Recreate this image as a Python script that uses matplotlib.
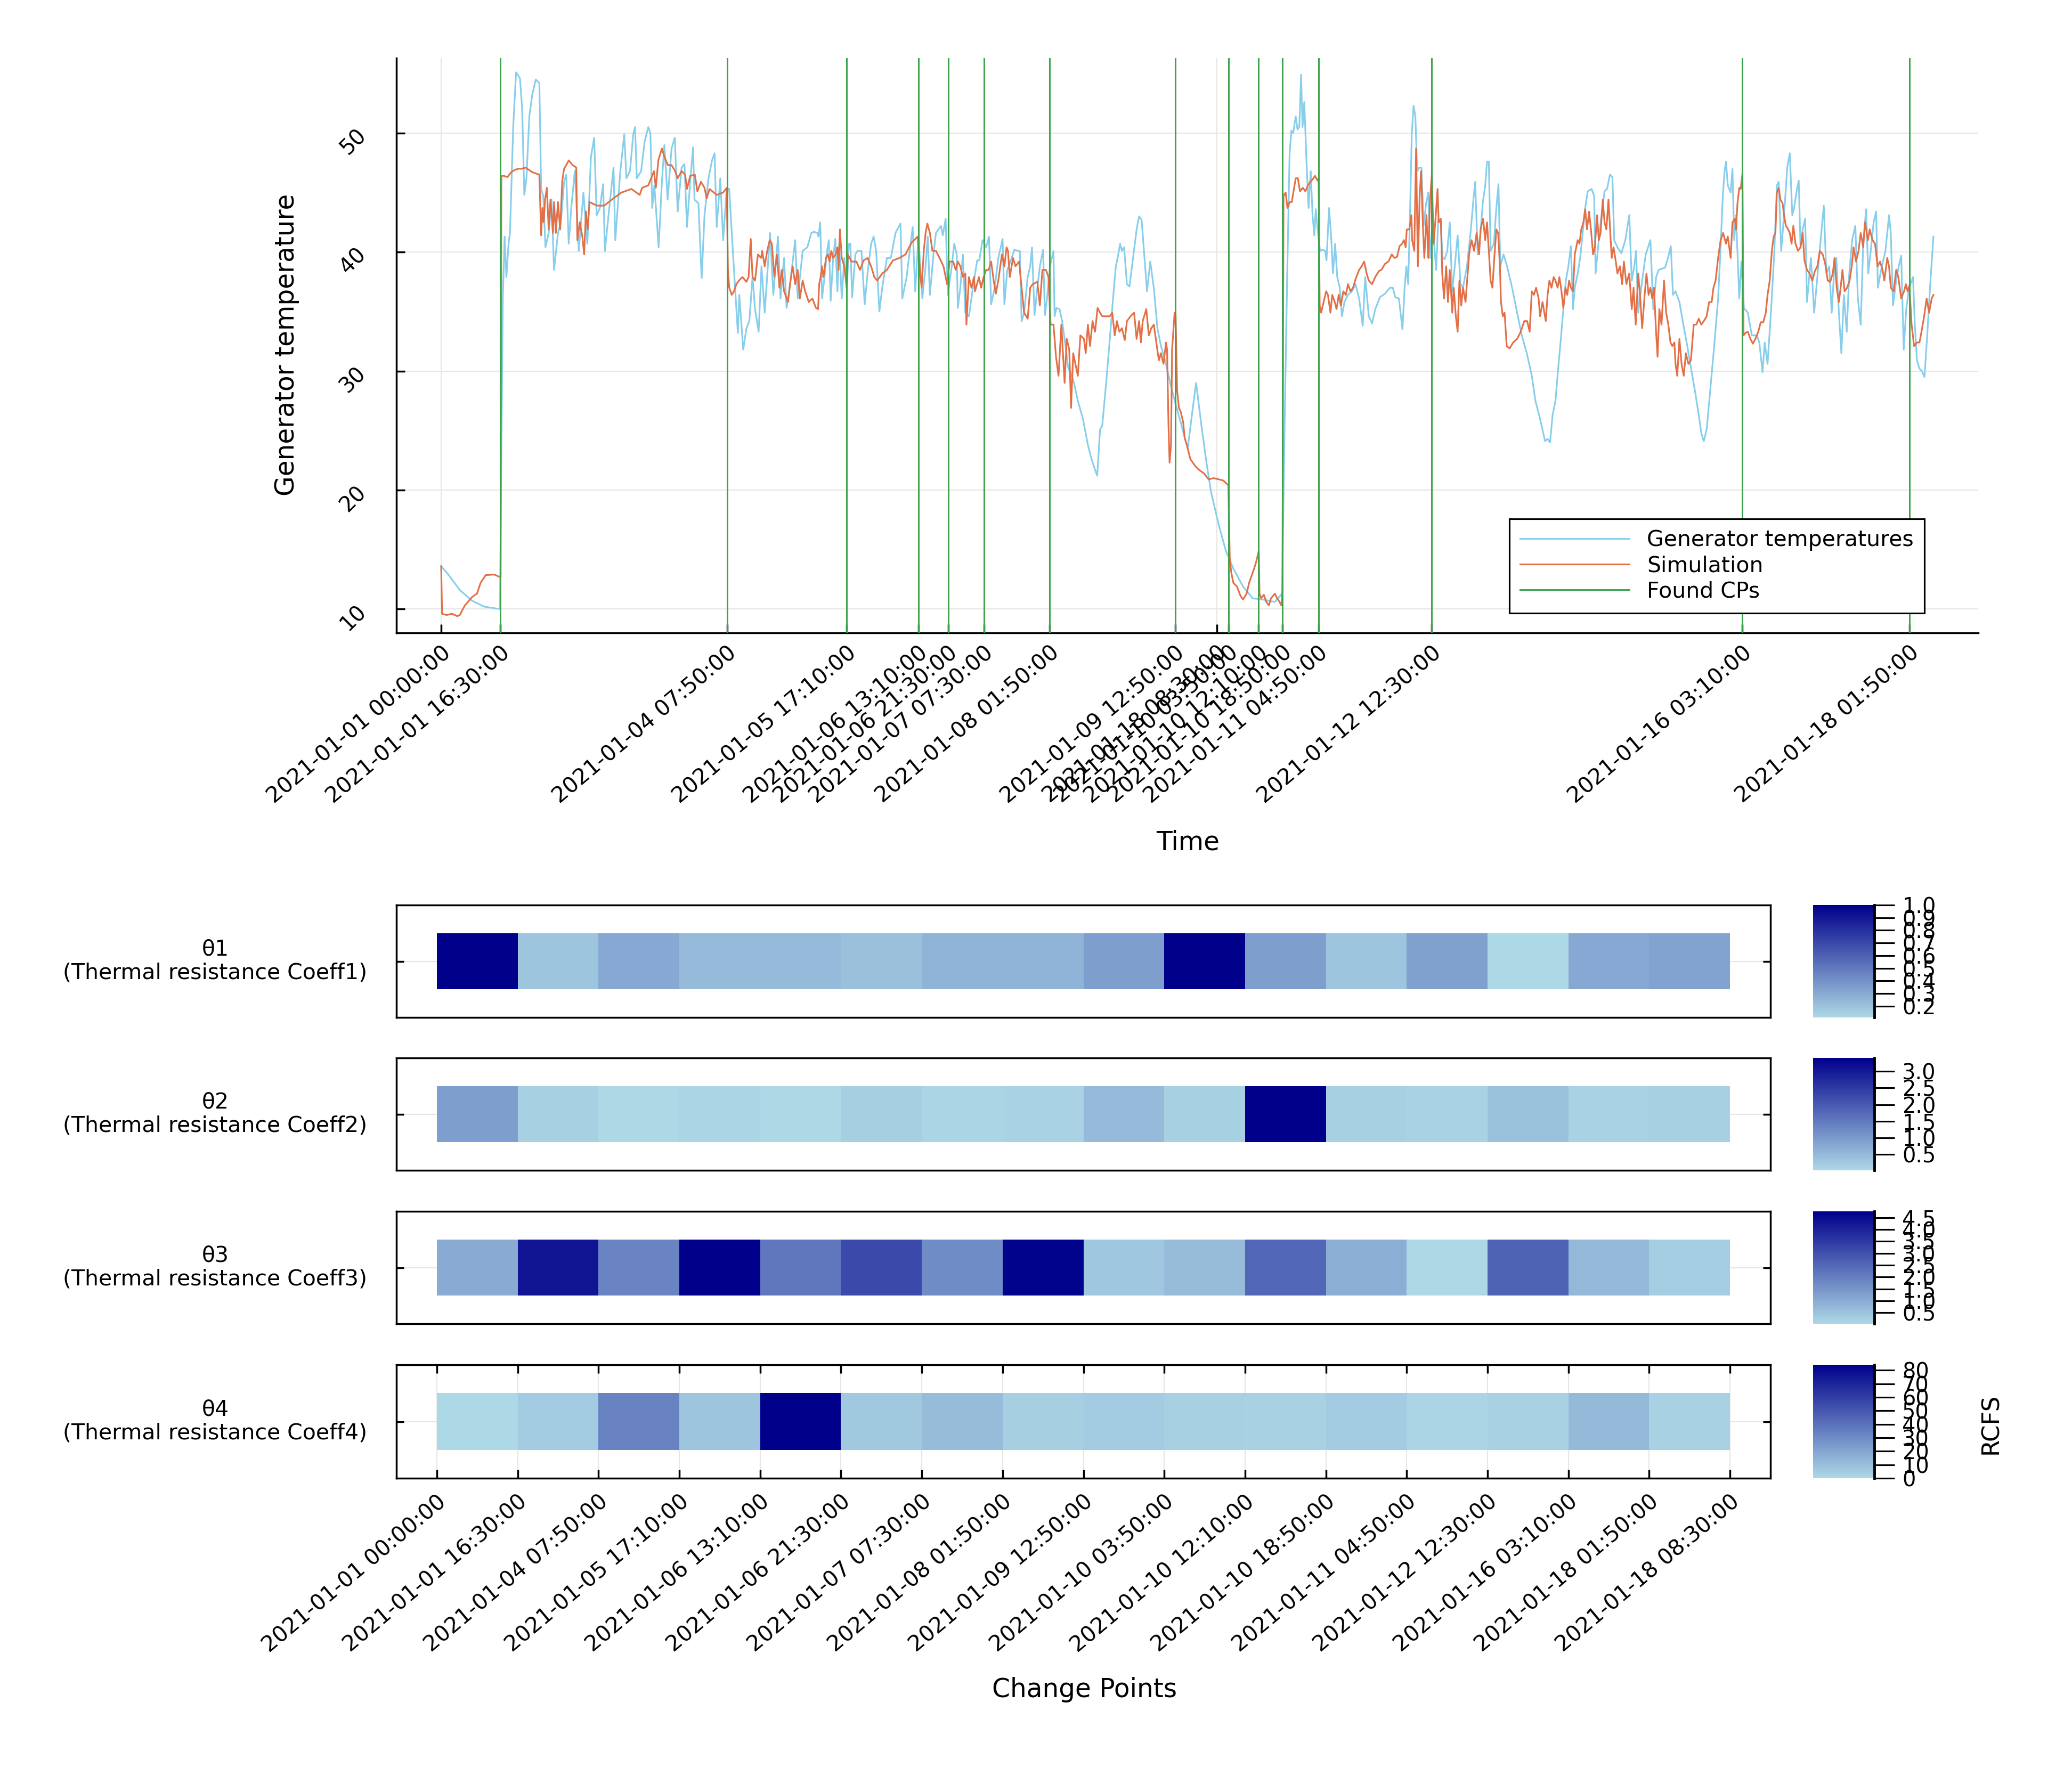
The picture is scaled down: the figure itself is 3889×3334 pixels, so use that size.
import numpy as np
import matplotlib
matplotlib.use("Agg")
import matplotlib.pyplot as plt
from matplotlib.colors import LinearSegmentedColormap
from datetime import datetime

plt.rcParams['font.family'] = ['DejaVu Sans']

# ---------------- data ----------------
START = "2021-01-01 00:00:00"
END = "2021-01-18 08:30:00"
change_points = ["2021-01-01 16:30:00", "2021-01-04 07:50:00", "2021-01-05 17:10:00",
                 "2021-01-06 13:10:00", "2021-01-06 21:30:00", "2021-01-07 07:30:00",
                 "2021-01-08 01:50:00", "2021-01-09 12:50:00", "2021-01-10 03:50:00",
                 "2021-01-10 12:10:00", "2021-01-10 18:50:00", "2021-01-11 04:50:00",
                 "2021-01-12 12:30:00", "2021-01-16 03:10:00", "2021-01-18 01:50:00"]
end_tick_hours = 216.5   # the reference draws the END tick at this position on the time axis

# Generator temperatures (hours since start, value)
temp_hours = [0, 2, 5.2, 8.6, 12, 16.4, 17.2, 17.7, 18.2, 18.8, 19.2, 20.1, 20.9, 22.0, 22.6, 23.2, 23.8, 24.6, 25.4, 26.4, 27.4, 27.9, 28.5, 29.1, 30.0, 30.8, 31.5, 32.6, 33.4, 34.3, 34.9, 35.6, 36.3, 37.3, 38.4, 39.7, 40.8, 41.8, 42.7, 43.4, 44.3, 45.2, 45.7, 46.6, 48.1, 48.6, 50.0, 51.1, 51.7, 52.7, 53.6, 54.1, 54.6, 55.8, 56.8, 57.8, 58.4, 58.9, 59.5, 60.7, 61.6, 62.3, 63.2, 64.3, 65.2, 66.0, 67.1, 67.9, 68.6, 69.5, 70.3, 70.7, 71.8, 72.7, 73.5, 74.6, 75.6, 76.3, 76.9, 77.9, 78.7, 79.7, 80.4, 81.4, 82.8, 83.2, 84.3, 85.2, 86.0, 86.9, 87.6, 88.6, 89.4, 90.3, 91.8, 92.7, 94.0, 94.7, 95.7, 96.4, 97.5, 98.8, 99.5, 100.9, 102.2,
              103.3, 104.0, 105.0, 105.3, 105.8, 106.3, 107.0, 107.7, 108.2, 108.7, 109.4, 110.0, 110.6, 111.1, 111.8, 112.5, 113.2, 113.8, 114.2, 114.7, 115.6, 116.2, 117.3, 118.2, 119.0, 120.0, 120.7, 121.4, 122.3, 123.1, 124.4, 125.5, 126.8, 128.2, 128.7, 129.9, 131.6, 132.3, 133.2, 134.3, 135.2, 135.8, 136.4, 137.4, 138.1, 138.8, 139.5, 140.0, 140.8, 141.4, 142.5, 143.2, 143.9, 144.2, 144.9, 145.6, 146.3, 147.3, 148.4, 149.6, 150.2, 151.1, 152.1, 152.9, 153.5, 154.5, 155.5, 156.7, 157.2, 158.0, 158.9, 160.0, 161.0, 161.5, 162.0, 162.7, 163.7, 164.4, 164.9, 165.6, 166.4, 167.1, 168.0, 168.5, 169.2, 169.9, 170.9, 171.2, 171.7, 172.6, 173.3, 174.0, 175.0, 176.4, 177.7, 179.1, 180.5, 181.5, 182.5, 183.1, 183.9, 184.5, 185.6, 186.7, 187.6, 188.3, 188.8, 189.5, 190.0, 190.6, 191.4, 192.1, 193.1, 194.1, 194.8, 195.5, 196.0, 197.0, 197.9, 198.9, 199.9, 200.9, 202.3, 203.7, 205.0, 206.4, 207.8, 208.4, 209.4,
              210.7, 212.2, 213.6, 214.9, 217.0, 219.0, 221.1, 223.8, 226.5, 229.2, 232.7, 234.7, 235.4, 236.1, 236.8, 237.3, 237.8, 238.5, 239.0, 239.5, 240.0, 240.4, 240.9, 241.5, 242.1, 242.7, 243.2, 243.7, 244.1, 244.6, 245.3, 246.0, 246.7, 247.1, 247.8, 248.4, 248.9, 249.5, 250.1, 250.8, 251.4, 252.1, 253.1, 254.2, 255.2, 256.2, 257.2, 257.9, 258.9, 259.8, 260.7, 262.0, 263.4, 264.8, 265.6, 266.3, 267.3, 268.3, 268.9, 269.4, 269.9, 270.4, 270.9, 271.4, 271.9, 272.4, 273.0, 273.6, 274.2, 274.9, 275.5, 276.0, 276.5, 277.0, 277.7, 278.3, 279.0, 279.5, 280.1, 280.8, 281.5, 282.2, 282.8, 283.7, 284.5, 285.2, 286.3, 287.3, 288.1, 288.6, 289.3, 290.0, 290.7, 291.4, 291.9, 292.4, 292.9, 293.8, 294.5, 295.1, 295.6, 296.5, 297.5, 298.9, 300.3, 301.6, 303.0, 304.4, 305.4, 306.7, 308.1, 308.8, 309.5, 310.2,
              311.0, 311.7, 312.5, 313.2, 313.9, 314.6, 315.3, 315.9, 316.4, 317.2, 317.9, 318.6, 319.3, 320.0, 321.1, 321.8, 322.2, 322.9, 323.6, 324.7, 325.4, 326.2, 326.9, 327.4, 328.3, 329.4, 330.5, 331.6, 332.3, 333.0, 333.5, 334.1, 335.2, 336.2, 337.5, 338.3, 339.1, 339.8, 341.6, 342.4, 343.2, 343.8, 344.5, 345.6, 346.7, 347.8, 348.8, 349.9, 351.0, 351.7, 352.4, 353.2, 354.2, 355.3, 356.4, 357.1, 357.7, 358.2, 358.6, 359.1, 359.9, 360.4, 360.9, 361.4, 362.3, 362.9, 363.6, 364.7, 365.8, 367.2, 367.9, 368.8, 369.4, 370.2, 371.2, 372.1, 372.8, 373.3, 374.0, 374.8, 375.7, 376.4, 377.1, 377.6, 378.4, 378.9, 379.4, 380.0, 380.7, 381.2, 382.3, 383.2, 384.1, 385.1, 385.9, 386.6, 387.4, 388.1, 388.8, 389.4, 390.1, 390.8, 391.5, 392.3, 393.0, 393.8, 394.7, 395.4, 396.2, 396.9, 397.7, 398.3, 399.0, 399.8, 400.5, 401.0, 401.9, 403.1, 404.1, 404.6, 405.2, 406.1, 406.8, 407.5, 408.2, 408.9, 409.7, 410.8, 411.3, 411.9, 412.6, 413.3, 414.0, 414.7, 415.6, 416.5]
temp_values = [13.6, 12.9, 11.6, 10.7, 10.2, 10.0, 36.0, 41.3, 37.9, 40.7, 41.6, 50.5, 55.1, 54.6, 52.0, 44.8, 46.2, 51.4, 53.2, 54.5, 54.2, 45.3, 44.7, 40.4, 41.6, 44.4, 38.5, 41.6, 42.5, 45.9, 46.5, 40.7, 43.7, 46.8, 40.1, 45.0, 40.7, 48.0, 49.6, 43.1, 43.7, 45.7, 40.1, 42.8, 47.1, 41.0, 46.8, 49.9, 46.2, 46.8, 49.9, 50.5, 46.2, 46.8, 49.3, 50.5, 50.0, 43.7, 45.6, 40.4, 45.9, 49.0, 44.4, 48.7, 49.6, 43.4, 47.1, 47.4, 42.1, 45.9, 48.8, 44.4, 44.1, 37.8, 43.1, 46.2, 47.7, 48.3, 42.1, 46.2, 41.0, 45.3, 45.3, 40.1, 33.2, 36.4, 31.8, 33.6, 34.2, 37.9, 35.2, 33.3, 38.8, 34.9, 41.6, 36.4, 41.3, 36.1, 39.5, 35.3, 37.6, 41.0, 36.1, 40.1, 40.4,
               41.6, 41.7, 41.6, 41.3, 42.5, 36.1, 37.9, 40.1, 41.0, 35.9, 39.5, 41.1, 36.7, 40.7, 36.1, 39.5, 36.7, 40.7, 40.7, 36.2, 39.8, 40.1, 40.1, 35.6, 38.2, 40.7, 41.3, 40.1, 35.0, 37.0, 39.5, 39.5, 41.6, 42.4, 36.1, 37.9, 42.1, 36.7, 41.3, 36.1, 38.8, 41.3, 36.4, 39.8, 41.6, 41.9, 42.2, 41.4, 42.8, 36.4, 38.8, 40.7, 39.8, 35.3, 37.0, 39.8, 34.9, 34.6, 37.0, 39.3, 39.3, 41.0, 40.4, 41.3, 35.6, 37.0, 39.5, 41.1, 35.6, 38.5, 39.2, 40.2, 40.1, 40.1, 34.2, 34.9, 37.9, 38.8, 40.4, 34.7, 37.0, 38.8, 40.2, 34.7, 36.4, 38.8, 40.1, 34.6, 35.3, 35.2, 34.2, 32.7, 30.3, 29.3, 27.5, 26.0, 23.8, 22.6, 21.7, 21.2, 25.1, 25.4, 29.0, 33.0, 36.4, 38.8, 39.5, 40.7, 40.1, 40.4, 37.3, 37.1, 39.5, 41.9, 43.0, 42.7, 40.7, 36.7, 39.2, 37.0, 33.6, 32.1, 30.6, 28.7, 27.2, 25.7, 24.1, 23.6, 26.0,
               29.0, 25.4, 22.3, 19.8, 17.1, 14.9, 13.4, 11.9, 10.9, 10.8, 10.6, 11.3, 25.4, 37.6, 48.3, 50.2, 50.0, 51.4, 50.3, 50.5, 54.9, 50.5, 52.6, 47.7, 43.7, 46.8, 43.1, 41.4, 43.6, 41.9, 40.1, 40.2, 40.1, 39.3, 43.7, 41.3, 38.2, 40.7, 37.9, 37.0, 34.6, 35.8, 36.4, 36.7, 37.3, 36.1, 33.8, 37.9, 34.6, 34.0, 35.2, 36.2, 36.5, 37.0, 37.0, 36.2, 36.1, 33.5, 37.0, 38.8, 37.3, 43.1, 49.9, 52.3, 51.4, 46.8, 47.1, 47.1, 42.2, 44.1, 45.0, 39.5, 41.6, 41.3, 38.5, 42.8, 42.4, 39.5, 39.4, 40.1, 42.5, 36.7, 38.5, 41.4, 37.3, 37.0, 38.8, 41.6, 44.4, 45.9, 39.8, 41.3, 44.1, 45.6, 47.6, 47.6, 40.1, 40.7, 43.7, 45.7, 38.8, 39.8, 38.8, 37.0, 34.9, 33.0, 31.5, 29.6, 27.5, 26.0, 24.1, 24.3, 24.0, 26.3,
               27.5, 30.0, 32.7, 35.2, 37.6, 38.8, 40.5, 35.2, 37.0, 38.2, 39.5, 41.6, 43.7, 45.1, 45.3, 44.7, 38.2, 40.4, 42.5, 45.1, 45.3, 46.5, 46.3, 41.0, 40.4, 39.9, 41.0, 43.1, 37.6, 38.8, 40.1, 34.9, 37.6, 39.8, 41.0, 35.2, 37.9, 38.5, 38.7, 39.5, 40.5, 36.4, 36.7, 35.8, 33.9, 32.1, 30.3, 28.4, 26.3, 24.8, 24.1, 25.1, 28.4, 32.1, 36.1, 40.4, 44.7, 46.8, 47.6, 45.6, 45.0, 47.0, 41.0, 43.1, 36.1, 39.2, 35.3, 34.9, 33.0, 33.0, 32.4, 29.9, 32.4, 30.6, 35.2, 40.1, 45.6, 45.9, 40.1, 43.1, 47.1, 48.3, 43.1, 43.7, 45.3, 46.0, 40.4, 41.9, 42.8, 35.8, 39.5, 34.9, 37.9, 41.3, 43.9, 38.2, 38.8, 34.9, 38.5, 39.5, 34.9, 31.5, 36.4, 33.3, 38.2, 41.0, 42.2, 36.1, 33.9, 40.7, 43.6, 38.2, 40.1, 42.5, 43.4, 37.0, 38.5, 40.1, 43.1, 41.6, 35.5, 37.6, 38.8, 39.7, 31.8, 35.2, 37.0, 37.9, 33.9, 30.9, 30.2, 30.0, 29.5, 32.7, 37.3, 41.3]

# Simulation (hours since start, value)
sim_hours = [0, 0.25, 1.5, 3, 4.5, 5.2, 6.6, 8.6, 10.0, 11.0, 12.4, 14.8, 16.3, 16.6, 16.8, 17.5, 18.5, 19.5, 20.5, 21.5, 22.5, 23.5, 24.5, 25.5, 26.5, 27.4, 27.9, 28.25, 28.6, 29.0, 29.5, 30.0, 30.5, 31.2, 31.5, 32.0, 32.6, 33.2, 33.8, 34.3, 34.9, 35.6, 36.7, 37.7, 38.0, 38.7, 39.4, 39.9, 40.4, 40.9, 41.4, 43.5, 45.5, 47.6, 50.3, 53.1, 55.4, 56.1, 57.8, 59.4, 59.9, 60.6, 61.6, 62.3, 63.3, 64.3, 65.3, 66.0, 67.1, 68.1, 68.6, 69.5, 70.8, 71.5, 72.5, 73.5, 74.1, 74.9, 76.9, 78.7, 79.7, 80.04, 80.4, 81.1, 81.7, 82.4, 83.1, 84.1, 85.2, 85.8, 86.4, 86.9, 87.6, 88.4, 89.3, 89.6, 90.3, 91.0, 91.7, 92.3, 93.0, 93.7, 94.4, 95.1, 95.7, 96.8, 97.5, 98.1, 98.8, 99.5, 100.1, 100.9, 101.6,
             102.6, 103.6, 104.6, 105.2, 105.5, 105.9, 106.3, 106.7, 107.4, 107.9, 108.4, 108.9, 109.4, 110.1, 110.6, 110.9, 111.3, 111.8, 112.5, 113.2, 113.5, 114.5, 115.9, 116.9, 117.9, 119.0, 120.0, 120.9, 121.7, 123.1, 124.4, 126.1, 127.9, 129.6, 131.3, 133.0, 133.7, 134.1, 134.7, 135.2, 135.7, 136.4, 137.1, 138.1, 139.1, 140.2, 141.2, 141.9, 142.9, 143.6, 144.2, 144.9, 145.6, 146.3, 146.6, 147.3, 148.0, 148.7, 149.0, 150.1, 150.7, 151.4, 152.1, 152.8, 153.5, 154.2, 154.8, 155.5, 156.5, 157.2, 157.8, 158.2, 158.7, 159.6, 160.3, 161.3, 162.0, 162.7, 163.7, 164.4, 165.1, 166.4, 167.1, 167.8, 168.8, 169.5, 170.1, 170.9, 171.6, 172.3, 173.1, 174.0, 174.6, 175.3, 175.8, 176.4, 177.0, 177.7, 178.4, 179.4, 179.9, 180.5, 181.1, 181.8, 182.5, 183.2, 183.9, 184.5, 185.6, 186.6, 187.3, 188.0, 188.6, 189.3, 190.0, 190.8, 191.4, 192.4, 193.4, 194.1, 194.8, 195.3, 195.8, 196.8, 197.5, 198.2, 198.9, 199.6, 200.3, 200.9, 201.6, 202.3, 202.6, 203.0, 203.3, 203.7, 204.0, 204.7, 205.0, 205.4, 205.9, 206.4,
             207.1, 207.5, 208.1, 208.6, 209.1, 209.8, 210.5, 211.5, 212.9, 214.2, 215.6, 217.0, 218.3, 219.7, 220.1, 220.5, 221.1, 222.1, 223.1, 223.8, 224.8, 225.5, 226.2, 226.9, 227.5, 228.2, 228.4, 228.9, 229.6, 230.3, 231.0, 231.6, 232.7, 233.3, 234.0, 234.5, 234.8, 235.1, 235.7, 236.2, 236.8, 237.4, 238.0, 238.5, 239.1, 239.7, 240.5, 241.2, 241.9, 242.6, 243.2, 243.9, 244.6, 244.9, 245.2, 245.6, 246.3, 247.0, 247.5, 248.2, 248.7, 249.4, 249.9, 250.5, 251.1, 251.8, 252.5, 253.1, 253.8, 254.5, 255.3, 256.2, 256.9, 257.6, 258.3, 258.9, 259.8, 260.7, 261.7, 262.4, 263.4, 264.4, 265.3, 266.1, 266.8, 267.5, 268.2, 268.7, 269.2, 269.5, 270.2, 270.8, 271.0, 271.6, 272.1, 272.6, 273.1, 273.5, 274.0, 274.4, 275.0, 275.5, 276.0, 276.5, 277.0, 277.6, 278.1, 278.4, 279.0, 279.4, 279.9, 280.5, 281.0, 281.5, 282.2, 282.6, 283.2, 283.7, 284.2, 284.7, 285.2, 285.9, 286.5, 287.0, 287.6, 288.3, 289.0, 289.7, 290.1, 290.8, 291.4, 291.9, 292.4, 292.9, 293.4, 294.0, 294.5, 295.0, 295.5, 295.8, 296.3, 296.8, 297.4, 298.2, 299.2, 300.3, 301.3, 302.3, 303.1, 303.8, 304.4, 305.0, 305.6, 306.3, 306.7, 307.4, 308.3, 308.8, 309.3, 309.9, 310.5,
             311.0, 311.6, 312.1, 312.6, 313.2, 313.8, 314.3, 314.8, 315.3, 315.9, 316.4, 317.2, 317.7, 318.2, 318.8, 319.3, 319.8, 320.4, 321.0, 321.5, 322.0, 322.6, 323.1, 323.6, 324.2, 324.7, 325.2, 325.8, 326.3, 326.7, 327.2, 327.7, 328.3, 329.0, 329.6, 330.1, 330.8, 331.6, 332.3, 332.8, 333.4, 334.1, 334.6, 335.2, 335.9, 336.4, 337.0, 337.5, 338.0, 338.5, 339.1, 339.5, 340.0, 340.6, 341.3, 341.9, 342.5, 343.1, 343.6, 344.2, 344.5, 345.0, 345.6, 346.2, 346.8, 347.4, 348.1, 348.8, 349.6, 350.3, 351.0, 351.7, 352.4, 353.2, 353.9, 354.6, 355.1, 355.7, 356.4, 357.1, 357.8, 358.6, 359.1, 359.9, 360.4, 361.1, 361.4, 361.8, 362.3, 362.7, 363.2, 363.5, 364.0, 364.7, 365.4, 366.1, 366.8, 367.6, 368.3, 369.0, 369.7, 370.2, 370.8, 371.4, 371.9, 372.4, 372.8, 373.3, 373.8, 374.4, 374.8, 375.3, 375.8, 376.4, 376.9, 377.4, 378.0, 378.7, 379.4, 380.0, 380.5, 381.2, 381.9, 382.7, 383.4, 384.1, 384.8, 385.6, 386.3, 387.0, 387.7, 388.4, 388.9, 389.5, 390.1, 390.6, 391.1, 391.7, 392.4, 393.1, 393.7, 394.2, 394.9, 395.6, 396.2, 396.9, 397.4, 398.2, 398.7, 399.5, 400.2, 400.9, 401.6, 402.3, 402.8, 403.6, 404.1, 404.6, 405.4, 406.1, 406.7, 407.5, 408.3, 408.8, 409.3, 409.8, 410.4, 411.1, 411.9, 412.6, 413.1, 413.9, 414.6, 415.3, 416.0, 416.5]
sim_values = [13.6, 9.6, 9.5, 9.6, 9.4, 9.5, 10.3, 11.0, 11.3, 12.2, 12.85, 12.9, 12.7, 12.7, 46.4, 46.4, 46.3, 46.7, 46.9, 47.0, 47.0, 47.1, 46.9, 46.7, 46.6, 46.5, 41.4, 43.7, 42.5, 44.4, 45.4, 41.9, 44.4, 41.6, 44.2, 41.6, 44.2, 41.9, 46.0, 47.0, 47.3, 47.7, 47.3, 47.1, 41.0, 42.5, 41.3, 39.8, 43.4, 41.9, 44.2, 43.9, 43.9, 44.4, 45.0, 45.3, 44.8, 45.4, 45.6, 46.8, 45.4, 47.7, 48.7, 48.0, 47.3, 47.3, 46.8, 46.2, 46.8, 46.5, 45.3, 46.4, 46.5, 45.1, 45.9, 45.4, 44.5, 45.3, 44.8, 45.0, 45.4, 38.5, 37.0, 36.4, 36.7, 37.3, 37.6, 37.9, 37.5, 37.9, 41.1, 37.9, 37.6, 39.8, 39.5, 40.1, 38.8, 40.1, 41.0, 40.7, 37.9, 39.8, 37.0, 38.5, 36.7, 35.8, 37.6, 38.8, 37.3, 38.5, 36.1, 37.6, 36.7,
              35.8, 36.1, 35.3, 35.2, 37.3, 37.9, 38.8, 37.9, 39.5, 39.8, 39.2, 40.1, 39.5, 39.8, 40.4, 38.5, 41.9, 39.5, 38.8, 37.0, 39.8, 39.2, 39.2, 38.5, 39.3, 39.5, 38.8, 37.9, 37.6, 38.2, 38.5, 39.3, 39.5, 39.8, 40.8, 41.3, 38.2, 37.0, 40.1, 41.6, 42.4, 41.6, 40.1, 40.1, 39.5, 38.8, 37.3, 39.2, 39.2, 38.5, 39.2, 38.8, 37.9, 38.2, 33.9, 37.9, 37.0, 37.9, 36.7, 37.9, 37.0, 37.9, 38.5, 38.5, 39.2, 37.6, 36.5, 37.6, 39.8, 38.8, 40.4, 40.1, 37.9, 39.5, 38.8, 39.2, 37.0, 34.9, 34.4, 37.0, 37.3, 37.5, 35.5, 38.5, 38.5, 37.9, 33.9, 33.9, 31.2, 29.6, 33.9, 29.0, 32.7, 31.8, 26.9, 31.5, 30.6, 29.6, 33.0, 32.7, 31.5, 33.9, 32.1, 34.2, 33.3, 35.3, 34.9, 34.6, 34.6, 34.6, 34.9, 33.0, 34.2, 33.3, 33.6, 32.6, 34.2, 34.6, 34.9, 32.7, 34.2, 32.4, 34.2, 35.2, 33.0, 33.6, 33.9, 32.4, 30.9, 31.5, 30.6, 32.4, 31.8, 25.4, 22.3, 23.8, 31.8, 34.9, 34.6, 28.4, 26.9, 26.6,
              25.7, 24.4, 23.8, 23.2, 22.6, 22.3, 22.0, 21.7, 21.4, 20.9, 21.0, 20.9, 20.8, 20.4, 14.3, 13.1, 12.2, 11.9, 11.1, 10.8, 11.3, 12.2, 12.8, 13.4, 14.0, 14.9, 11.3, 10.9, 11.2, 10.6, 10.3, 10.9, 11.3, 10.9, 10.6, 10.3, 11.6, 44.7, 45.0, 43.7, 44.2, 44.2, 45.3, 46.2, 46.2, 45.1, 45.4, 45.1, 45.6, 45.9, 46.1, 46.4, 46.0, 46.2, 35.5, 34.9, 35.8, 36.7, 36.4, 34.9, 36.4, 35.8, 35.2, 36.4, 35.5, 36.7, 36.4, 37.3, 36.7, 37.0, 37.8, 38.5, 38.8, 39.2, 38.2, 37.6, 37.3, 37.9, 38.4, 38.5, 39.0, 39.2, 39.8, 39.5, 39.6, 40.5, 40.7, 41.0, 40.4, 41.9, 41.9, 43.1, 41.0, 40.1, 48.7, 38.8, 44.7, 46.8, 42.2, 39.5, 43.1, 39.5, 44.4, 46.5, 40.7, 43.1, 45.3, 42.5, 42.8, 38.2, 36.1, 38.8, 35.8, 38.5, 34.9, 37.0, 34.6, 33.3, 37.6, 35.5, 37.0, 35.8, 38.2, 40.1, 41.0, 40.1, 41.6, 39.8, 41.9, 42.8, 41.0, 42.5, 40.1, 37.6, 37.0, 39.8, 41.9, 41.6, 38.8, 35.8, 34.6, 34.9, 32.1, 31.9, 32.4, 32.7, 33.3, 34.2, 34.2, 33.3, 36.7, 36.4, 37.0, 36.1, 34.6, 35.8, 34.2, 36.4, 37.6, 37.0, 37.9,
              37.6, 37.0, 37.9, 36.9, 35.3, 37.0, 36.4, 37.6, 37.0, 36.7, 39.8, 41.0, 40.7, 41.9, 42.5, 43.6, 41.9, 43.4, 41.6, 39.8, 40.4, 43.1, 41.0, 41.6, 44.4, 42.5, 41.9, 44.4, 41.6, 39.5, 40.4, 39.5, 38.2, 38.8, 37.3, 39.2, 37.3, 38.2, 35.2, 37.0, 33.9, 38.2, 36.4, 33.6, 36.4, 38.2, 36.4, 37.0, 36.1, 37.0, 33.2, 31.2, 35.2, 33.9, 37.6, 34.9, 33.9, 32.4, 32.1, 32.4, 30.6, 29.6, 32.7, 30.6, 29.6, 31.5, 30.6, 30.9, 33.9, 33.9, 34.4, 33.9, 34.2, 34.6, 35.8, 35.8, 37.0, 37.6, 39.5, 41.0, 41.6, 40.7, 41.3, 39.5, 42.5, 42.8, 41.9, 44.1, 45.4, 45.3, 46.6, 33.0, 33.2, 33.3, 32.7, 32.3, 32.7, 33.3, 34.1, 34.1, 34.9, 36.4, 37.6, 40.1, 41.3, 41.6, 45.0, 45.4, 44.4, 44.1, 43.1, 42.2, 42.0, 41.6, 40.7, 42.2, 40.7, 40.1, 40.4, 41.6, 39.3, 38.5, 38.2, 37.6, 38.4, 38.8, 40.1, 39.8, 39.0, 37.6, 37.5, 38.2, 39.5, 37.0, 35.8, 37.0, 38.5, 36.7, 37.0, 37.6, 38.8, 40.4, 39.2, 40.1, 41.6, 40.4, 42.5, 41.0, 41.9, 41.0, 40.7, 38.8, 39.2, 38.5, 37.6, 39.5, 38.8, 37.0, 36.7, 38.5, 37.9, 36.1, 36.7, 37.3, 36.7, 37.2, 33.9, 32.1, 32.4, 32.4, 33.2, 34.6, 36.1, 34.9, 36.1, 36.4]

# Heatmap values per segment (16 segments between the 17 boundaries)
theta1 = [1.00, 0.19, 0.31, 0.23, 0.23, 0.21, 0.26, 0.26, 0.35, 1.00, 0.35, 0.19, 0.34, 0.11, 0.31, 0.33]
theta2 = [0.93, 0.13, 0.01, 0.06, 0.02, 0.15, 0.07, 0.09, 0.48, 0.13, 3.41, 0.14, 0.10, 0.36, 0.10, 0.14]
theta3 = [1.03, 4.29, 1.88, 4.76, 2.15, 3.16, 1.70, 4.70, 0.42, 0.66, 2.54, 0.98, 0.04, 2.59, 0.75, 0.28]
theta4 = [0.0, 5.0, 33.6, 7.6, 84.0, 6.3, 11.0, 3.8, 5.0, 3.0, 2.5, 5.0, 1.0, 2.3, 12.0, 2.3]
theta_labels = ["θ1\n(Thermal resistance Coeff1)", "θ2\n(Thermal resistance Coeff2)",
                "θ3\n(Thermal resistance Coeff3)", "θ4\n(Thermal resistance Coeff4)"]
cbar_ticks = [[0.2, 0.3, 0.4, 0.5, 0.6, 0.7, 0.8, 0.9, 1.0],
              [0.5, 1.0, 1.5, 2.0, 2.5, 3.0],
              [0.5, 1.0, 1.5, 2.0, 2.5, 3.0, 3.5, 4.0, 4.5],
              [0, 10, 20, 30, 40, 50, 60, 70, 80]]

# ---------------- helpers ----------------
t0 = datetime.strptime(START, "%Y-%m-%d %H:%M:%S")
def hours(s):
    return (datetime.strptime(s, "%Y-%m-%d %H:%M:%S") - t0).total_seconds() / 3600.0

cp_hours = [hours(s) for s in change_points]

W, H = 3889, 3334
DPI = 250
def rect(x0, y0, x1, y1):
    return [x0 / W, 1 - y1 / H, (x1 - x0) / W, (y1 - y0) / H]

C_TEMP = '#87ceeb'
C_SIM = '#e26f46'
C_CP = '#3da44d'
GRID = '#e6e6e6'
XTICK_FS = 11.8
XROT = 40
TICK_FS = 11.5
SMALL_FS = 11.8
GUIDE_FS = 14

fig = plt.figure(figsize=(W / DPI, H / DPI), dpi=DPI)

# ---------------- top panel ----------------
ax = fig.add_axes(rect(744, 109, 3713, 1188))
ax.plot(temp_hours, temp_values, color=C_TEMP, lw=0.9, label="Generator temperatures", zorder=3)
ax.plot(sim_hours, sim_values, color=C_SIM, lw=0.9, label="Simulation", zorder=4)
for i, h in enumerate(cp_hours):
    ax.axvline(h, color=C_CP, lw=0.85, zorder=5, label="Found CPs" if i == 0 else None)

ax.set_xlim(-12.5, 429.0)
ax.set_ylim(8.0, 56.3)
xt = [0.0] + cp_hours + [end_tick_hours]
xl = [START] + change_points + [END]
ax.set_xticks(xt)
ax.set_xticklabels(xl, rotation=XROT, ha='right', va='top', rotation_mode='anchor', fontsize=XTICK_FS)
ax.set_yticks([10, 20, 30, 40, 50])
ax.set_yticklabels(['10', '20', '30', '40', '50'], rotation=45, fontsize=TICK_FS)
ax.tick_params(axis='both', direction='in', length=4.5, width=1.0)
ax.tick_params(axis='x', pad=5)
ax.tick_params(axis='y', pad=14)
ax.grid(True, color=GRID, lw=0.6, zorder=0)
ax.set_axisbelow(True)
for s in ['top', 'right']:
    ax.spines[s].set_visible(False)
for s in ['left', 'bottom']:
    ax.spines[s].set_linewidth(1.0)

leg = ax.legend(loc='lower right', bbox_to_anchor=(0.966, 0.034), borderaxespad=0.0,
                fontsize=SMALL_FS, frameon=True, fancybox=False, edgecolor='black',
                framealpha=1.0, handlelength=5.0, handletextpad=0.8, labelspacing=0.2,
                borderpad=0.5)
leg.get_frame().set_linewidth(0.9)

fig.text(538 / W, 1 - 647 / H, "Generator temperature", rotation=90, ha='center', va='center', fontsize=GUIDE_FS)
fig.text(2230 / W, 1 - 1582 / H, "Time", ha='center', va='center', fontsize=GUIDE_FS)

# ---------------- heatmaps ----------------
cmap = LinearSegmentedColormap.from_list("lb_db", ['#add8e6', '#00008b'])
rows = [(1699, 1910), (1986, 2197), (2274, 2485), (2562, 2775)]
thetas = [theta1, theta2, theta3, theta4]
bounds = [START] + change_points + [END]
xedges = np.arange(len(bounds))

for k, (vals, (y0, y1)) in enumerate(zip(thetas, rows)):
    hax = fig.add_axes(rect(744, y0, 3323, y1))
    v = np.array(vals)[None, :]
    pcm = hax.pcolormesh(xedges, [-0.5, 0.5], v, cmap=cmap, vmin=min(vals), vmax=max(vals), zorder=2)
    hax.set_xlim(-0.5, len(bounds) - 0.5)
    hax.set_ylim(-1, 1)
    hax.set_yticks([0])
    hax.set_yticklabels([''])
    hax.grid(True, axis='y', color=GRID, lw=0.6, zorder=0)
    hax.tick_params(axis='y', direction='in', length=4, width=1.0, left=True, right=True)
    for s in hax.spines.values():
        s.set_linewidth(1.0)
    if k == 3:
        hax.set_xticks(xedges)
        hax.set_xticklabels(bounds, rotation=XROT, ha='right', va='top', rotation_mode='anchor', fontsize=XTICK_FS)
        hax.tick_params(axis='x', direction='in', length=4.5, width=1.0, top=True, bottom=True, pad=7)
        hax.grid(True, axis='x', color=GRID, lw=0.6, zorder=0)
    else:
        hax.set_xticks([])
    hax.set_axisbelow(True)
    fig.text(404 / W, 1 - (y0 + y1) / 2 / H, theta_labels[k], ha='center', va='center',
             fontsize=SMALL_FS, linespacing=1.1)

    cax = fig.add_axes(rect(3403, y0, 3518, y1))
    cb = fig.colorbar(pcm, cax=cax, ticks=cbar_ticks[k])
    cb.outline.set_visible(False)
    if k == 3:
        cb.ax.set_yticklabels([f"{t:d}" for t in cbar_ticks[k]])
    else:
        cb.ax.set_yticklabels([f"{t:.1f}" for t in cbar_ticks[k]])
    cax.tick_params(axis='y', direction='out', length=11, width=0.9, labelsize=TICK_FS, pad=4,
                    right=True, left=False)
    cax.plot([1, 1], [0, 1], transform=cax.transAxes, color='black', lw=1.4, clip_on=False)

fig.text(2036 / W, 1 - 3172 / H, "Change Points", ha='center', va='center', fontsize=GUIDE_FS)
fig.text(3737 / W, 1 - 2673 / H, "RCFS", rotation=90, ha='center', va='center', fontsize=GUIDE_FS - 1)

fig.savefig("out.png", dpi=DPI, facecolor='white')
